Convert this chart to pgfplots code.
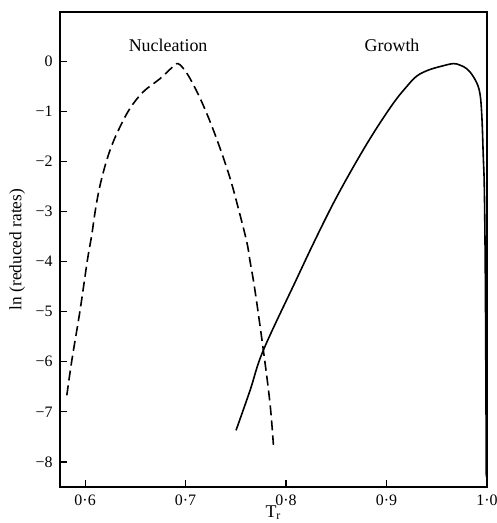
\documentclass[border=0pt]{standalone}
\usepackage{fontspec}
\setmainfont{Liberation Serif}
\usepackage{pgfplots}
\pgfplotsset{compat=1.18}
\begin{document}
\fontsize{9}{11}\selectfont
\begin{tikzpicture}
\begin{axis}[
  width=213.5bp, height=237.5bp, scale only axis,
  xmin=0.575, xmax=1.0, ymin=-8.5, ymax=0.98,
  xtick={0.6,0.7,0.8,0.9,1.0},
  xticklabels={0·6,0·7,0·8,0·9,1·0},
  ytick={-8,-7,-6,-5,-4,-3,-2,-1,0},
  yticklabels={−8,−7,−6,−5,−4,−3,−2,−1,0},
  tick align=inside, xtick pos=bottom, ytick pos=left,
  major tick length=3.5bp,
  axis line style={line width=0.6pt},
  tick style={black, line width=0.6pt},
  tick label style={font=\fontsize{8}{9}\selectfont},
  xticklabel style={yshift=-1bp},
  yticklabel style={xshift=-0.5bp},
  xlabel={T\textsubscript{r}},
  xlabel style={font=\fontsize{9}{10}\selectfont, yshift=6.5bp},
  ylabel={ln (reduced rates)},
  ylabel style={font=\fontsize{8.7}{10}\selectfont, at={(axis description cs:-0.1,0.5)}, anchor=center},
  clip=false,
]
\addplot[black, line width=0.8pt, dash pattern=on 5bp off 2.5bp, smooth, tension=0.6] coordinates {
(0.5818,-6.67) (0.5868,-5.97) (0.595,-4.97) (0.6023,-3.97) (0.6066,-3.47)
(0.610,-3.0) (0.6142,-2.54) (0.620,-2.08) (0.6266,-1.68) (0.6348,-1.31)
(0.6448,-0.94) (0.658,-0.61) (0.6746,-0.35) (0.6880,-0.10) (0.6925,-0.05)
(0.6975,-0.14) (0.7045,-0.35) (0.7144,-0.74) (0.7244,-1.21) (0.7343,-1.74) (0.7443,-2.34)
(0.7525,-2.94) (0.7609,-3.61) (0.7642,-4.0) (0.769,-4.57) (0.7774,-5.77)
(0.784,-6.83) (0.7874,-7.66)
};
\addplot[black, line width=0.8pt, smooth, tension=0.6] coordinates {
(0.7502,-7.37) (0.7642,-6.57) (0.7774,-5.77) (0.810,-4.37) (0.8272,-3.64)
(0.847,-2.84) (0.867,-2.11) (0.8869,-1.44) (0.9068,-0.84) (0.920,-0.51)
(0.930,-0.30) (0.9416,-0.18) (0.955,-0.10) (0.9665,-0.05) (0.973,-0.08)
(0.9797,-0.15) (0.9864,-0.31) (0.9923,-0.58) (0.9947,-1.04) (0.9963,-1.91)
(0.9973,-2.51) (0.9982,-4) (0.9988,-6) (0.9993,-8.3)
};
\node[font=\fontsize{9}{11}\selectfont] at (axis cs:0.6826,0.32) {Nucleation};
\node[font=\fontsize{9}{11}\selectfont] at (axis cs:0.9055,0.32) {Growth};
\end{axis}
\pgfresetboundingbox
\path (current axis.south west) ++(-30bp,-18bp) coordinate (bbA);
\path (current axis.north east) ++(5bp,6bp) coordinate (bbB);
\useasboundingbox (bbA) rectangle (bbB);
\end{tikzpicture}
\end{document}
